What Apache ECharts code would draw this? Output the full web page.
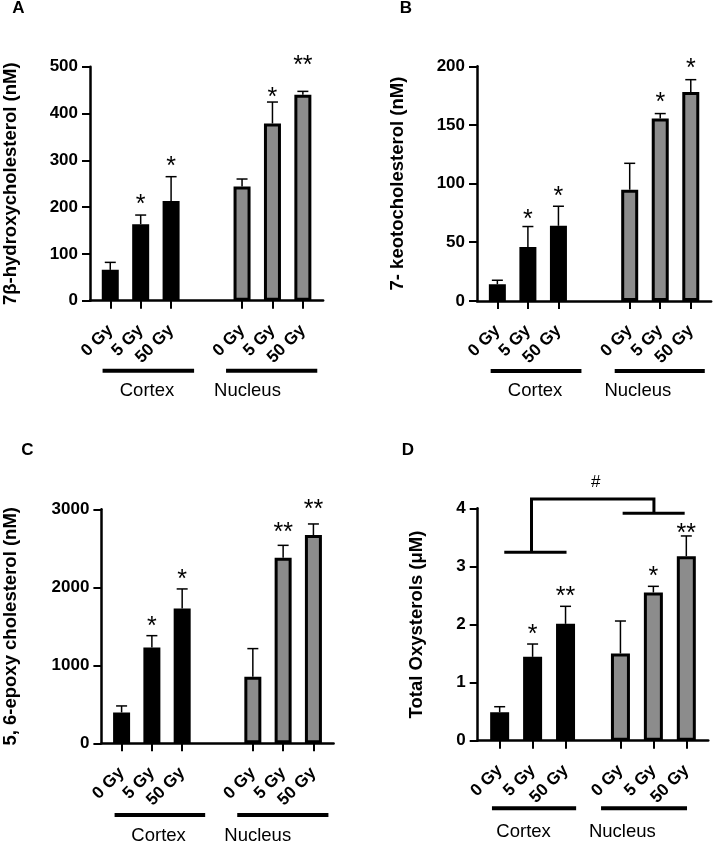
<!DOCTYPE html>
<html><head><meta charset="utf-8">
<script src="https://cdn.jsdelivr.net/npm/echarts@6/dist/echarts.min.js"></script>
<style>html,body{margin:0;padding:0;background:#fff}#c{width:714px;height:841px}</style>
</head><body><div id="c"></div>
<script>
// ---------- data ----------
const doseLabels = ['0 Gy', '5 Gy', '50 Gy'];
const groupNames = ['Cortex', 'Nucleus'];

const titleA = '7β-hydroxycholesterol (nM)';
const meanA = [65.9, 163.5, 213.3, 244.0, 378.6, 439.8];
const semA  = [16.0, 19.5, 51.7, 16.0, 45.9, 7.5];
const starsA = ['', '*', '*', '', '*', '**'];
const ticksA = [0, 500, 100];

const titleB = '7- keotocholesterol (nM)';
const meanB = [14.2, 46.0, 64.0, 94.8, 155.5, 178.0];
const semB  = [3.4, 17.4, 16.7, 22.5, 4.2, 10.6];
const starsB = ['', '*', '*', '', '*', '*'];
const ticksB = [0, 200, 50];

const titleC = '5, 6-epoxy cholesterol (nM)';
const meanC = [395, 1229, 1729, 853, 2378, 2669];
const semC  = [84, 151, 250, 361, 160, 143];
const starsC = ['', '*', '*', '', '**', '**'];
const ticksC = [0, 3000, 1000];

const titleD = 'Total Oxysterols (μM)';
const meanD = [0.49, 1.443, 2.011, 1.501, 2.551, 3.176];
const semD  = [0.095, 0.221, 0.302, 0.559, 0.106, 0.348];
const starsD = ['', '*', '**', '', '*', '**'];
const ticksD = [0, 4, 1];
const bracketMark = '#';

// ---------- layout / style ----------
const FONT = "'Liberation Sans', Arial, Helvetica, sans-serif";
const GRAY = '#8c8c8c';
const panels = [
  {letter:'A', lx:18.3, ly:8.3, left:89, top:66.7, height:234, sub:10.18, gap:7, barW:20, nameGap:70,
   title:titleA, mean:meanA, sem:semA, stars:starsA, ticks:ticksA, lift:[0,16.7,16,0,10.7,31.7],
   lineL:[-7.7,-16], lineR:[23,14.4], textDx:[6.3,-25], lineDy:70, textDy:20.6},
  {letter:'B', lx:406, ly:8.3, left:477, top:66.3, height:234.6, sub:10.18, gap:7, barW:20, nameGap:69.8,
   title:titleB, mean:meanB, sem:semB, stars:starsB, ticks:ticksB, lift:[0,13.3,16,0,17,17.6],
   lineL:[-6.7,-15], lineR:[23,14], textDx:[7.2,-22.4], lineDy:70, textDy:19.6},
  {letter:'C', lx:27.5, ly:450, left:99.7, top:509.3, height:234, sub:10.17, gap:7, barW:20, nameGap:81.4,
   title:titleC, mean:meanC, sem:semC, stars:starsC, ticks:ticksC, lift:[0,15.7,15.7,0,18.7,20.7],
   lineL:[-7,-15.6], lineR:[23,15], textDx:[6.7,-25.4], lineDy:71.7, textDy:21},
  {letter:'D', lx:408, ly:450, left:477.7, top:508.3, height:232.4, sub:10.98, gap:5, barW:22, nameGap:51,
   title:titleD, mean:meanD, sem:semD, stars:starsD, ticks:ticksD, lift:[0,15.7,16.3,0,16.3,8.7],
   lineL:[-7.7,-19.4], lineR:[10.6,0.7], textDx:[-9,-31], lineDy:67.6, textDy:23.4,
   bracket:{leftSpan:[2.42,8.09], stemL:4.9, stemR:16.05, rightSpan:[13.2,18.85], yL:3.243, yR:3.914, yTop:4.16, markX:10.75, markY:4.44}}
];

const option = {animation:false, grid:[], xAxis:[], yAxis:[], series:[], graphic:[]};

panels.forEach((p, pi) => {
  const idx = [2, 5, 8, 8 + p.gap, 11 + p.gap, 14 + p.gap];
  const N = idx[5] + 3;
  const cats = new Array(N).fill('');
  idx.forEach((ix, k) => { cats[ix] = doseLabels[k % 3]; });
  const show = (i, v) => v !== '';

  option.grid.push({left:p.left, top:p.top, width:(N - 1) * p.sub, height:p.height, containLabel:false});
  option.xAxis.push({
    type:'category', gridIndex:pi, data:cats, boundaryGap:false,
    axisLine:{lineStyle:{color:'#000', width:2.5}},
    axisTick:{show:true, interval:show, length:8, lineStyle:{color:'#000', width:2}},
    axisLabel:{interval:show, rotate:45, margin:27, color:'#000', fontWeight:'bold', fontSize:17, fontFamily:FONT},
    splitLine:{show:false}
  });
  option.yAxis.push({
    type:'value', gridIndex:pi, min:p.ticks[0], max:p.ticks[1], interval:p.ticks[2],
    name:p.title, nameLocation:'middle', nameGap:p.nameGap,
    nameTextStyle:{color:'#000', fontWeight:'bold', fontSize:18.5, fontFamily:FONT},
    axisLine:{show:true, lineStyle:{color:'#000', width:2.5}},
    axisTick:{show:true, length:8, lineStyle:{color:'#000', width:2}},
    axisLabel:{margin:12, color:'#000', fontWeight:'bold', fontSize:17, fontFamily:FONT, formatter:v => String(v)},
    splitLine:{show:false}
  });

  const barData = new Array(N).fill('-');
  idx.forEach((ix, k) => {
    barData[ix] = {value:p.mean[k], itemStyle:{color: k < 3 ? '#000' : GRAY}};
  });
  option.series.push({
    type:'bar', xAxisIndex:pi, yAxisIndex:pi, data:barData, barWidth:p.barW - 3,
    itemStyle:{borderColor:'#000', borderWidth:3}, z:3, silent:true
  });

  // error bars + significance stars
  option.series.push({
    type:'custom', xAxisIndex:pi, yAxisIndex:pi, clip:false, z:4, silent:true,
    data: idx.map((ix, k) => [ix, p.mean[k] + p.sem[k], p.mean[k], k]),
    renderItem: (params, api) => {
      const k = api.value(3);
      const top = api.coord([api.value(0), api.value(1)]);
      const base = api.coord([api.value(0), api.value(2)]);
      const ch = [
        {type:'line', shape:{x1:top[0], y1:base[1], x2:top[0], y2:top[1]}, style:{stroke:'#000', lineWidth:1.5}},
        {type:'line', shape:{x1:top[0] - 5.5, y1:top[1], x2:top[0] + 5.5, y2:top[1]}, style:{stroke:'#000', lineWidth:1.5}}
      ];
      if (p.stars[k]) {
        const fs = 25;
        ch.push({type:'text', x:top[0], y:top[1] - p.lift[k] + 0.27 * fs,
          style:{text:p.stars[k], fill:'#000', font: fs + 'px ' + FONT, align:'center', verticalAlign:'middle'}});
      }
      return {type:'group', children:ch};
    }
  });

  // group underlines and names
  option.series.push({
    type:'custom', xAxisIndex:pi, yAxisIndex:pi, clip:false, z:4, silent:true,
    data: groupNames.map((g, gi) => [idx[gi * 3], 0, gi]),
    renderItem: (params, api) => {
      const gi = api.value(2);
      const a = api.coord([idx[gi * 3], 0]);
      const b = api.coord([idx[gi * 3 + 2], 0]);
      const m = api.coord([idx[gi * 3 + 1], 0]);
      const y = a[1] + p.lineDy;
      return {type:'group', children:[
        {type:'line', shape:{x1:a[0] + p.lineL[gi], y1:y, x2:b[0] + p.lineR[gi], y2:y}, style:{stroke:'#000', lineWidth:4}},
        {type:'text', x:m[0] + p.textDx[gi], y:y + p.textDy,
         style:{text:groupNames[gi], fill:'#000', font:'18.5px ' + FONT, align:'center', verticalAlign:'middle'}}
      ]};
    }
  });

  if (p.bracket) {
    const br = p.bracket;
    option.series.push({
      type:'custom', xAxisIndex:pi, yAxisIndex:pi, clip:false, z:4, silent:true,
      data:[[0, 0]],
      renderItem: (params, api) => {
        const xAt = f => {
          const i0 = Math.floor(f);
          const c0 = api.coord([i0, 0])[0], c1 = api.coord([i0 + 1, 0])[0];
          return c0 + (f - i0) * (c1 - c0);
        };
        const yAt = v => api.coord([0, v])[1];
        const st = {stroke:'#000', lineWidth:3, fill:null};
        return {type:'group', children:[
          {type:'line', shape:{x1:xAt(br.leftSpan[0]), y1:yAt(br.yL), x2:xAt(br.leftSpan[1]), y2:yAt(br.yL)}, style:st},
          {type:'line', shape:{x1:xAt(br.rightSpan[0]), y1:yAt(br.yR), x2:xAt(br.rightSpan[1]), y2:yAt(br.yR)}, style:st},
          {type:'polyline', shape:{points:[[xAt(br.stemL), yAt(br.yL)], [xAt(br.stemL), yAt(br.yTop)], [xAt(br.stemR), yAt(br.yTop)], [xAt(br.stemR), yAt(br.yR)]]}, style:st},
          {type:'text', x:xAt(br.markX), y:yAt(br.markY),
           style:{text:bracketMark, fill:'#000', font:'17px ' + FONT, align:'center', verticalAlign:'middle'}}
        ]};
      }
    });
  }

  option.graphic.push({type:'text', x:p.lx, y:p.ly,
    style:{text:p.letter, fill:'#000', font:'bold 17px ' + FONT, align:'center', verticalAlign:'middle'}});
});

const chart = echarts.init(document.getElementById('c'), null, {renderer:'canvas'});
chart.setOption(option);
</script>
</body></html>
